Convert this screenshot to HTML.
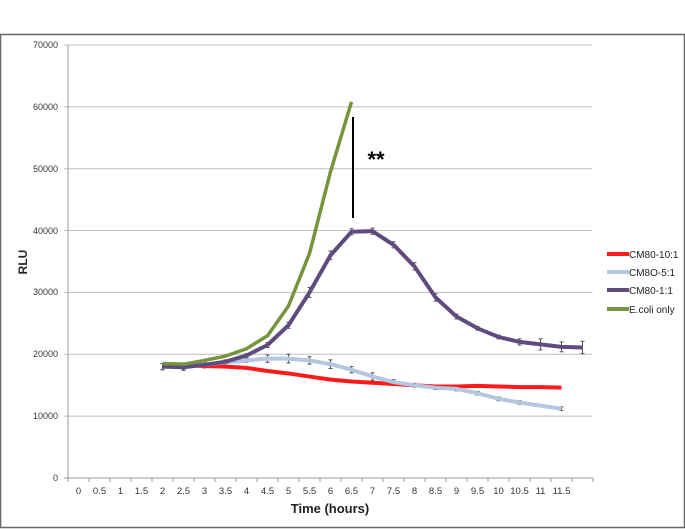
<!DOCTYPE html>
<html><head><meta charset="utf-8"><style>
html,body{margin:0;padding:0;background:#fff;}
svg{display:block;font-family:"Liberation Sans",sans-serif;}
</style></head><body>
<svg id="s" width="685" height="529" viewBox="0 0 685 529">
<rect x="0.5" y="34.5" width="684" height="493" fill="#fff" stroke="#666" stroke-width="1.5"/>
<g id="grid" stroke="#bfbfbf" stroke-width="1"></g>
<g font-size="9" fill="#333" text-anchor="end">
<text x="58" y="48">70000</text><text x="58" y="110">60000</text><text x="58" y="172">50000</text>
<text x="58" y="234">40000</text><text x="58" y="295">30000</text><text x="58" y="357">20000</text>
<text x="58" y="419">10000</text><text x="58" y="481">0</text>
</g>
<g font-size="9.5" fill="#333" text-anchor="middle">
<text x="78.5" y="494">0</text><text x="99.5" y="494">0.5</text><text x="120.5" y="494">1</text><text x="141.5" y="494">1.5</text>
<text x="162.5" y="494">2</text><text x="183.5" y="494">2.5</text><text x="204.5" y="494">3</text><text x="225.5" y="494">3.5</text>
<text x="246.5" y="494">4</text><text x="267.5" y="494">4.5</text><text x="288.5" y="494">5</text><text x="309.5" y="494">5.5</text>
<text x="330.5" y="494">6</text><text x="351.5" y="494">6.5</text><text x="372.5" y="494">7</text><text x="393.5" y="494">7.5</text>
<text x="414.5" y="494">8</text><text x="435.5" y="494">8.5</text><text x="456.5" y="494">9</text><text x="477.5" y="494">9.5</text>
<text x="498.5" y="494">10</text><text x="519.5" y="494">10.5</text><text x="540.5" y="494">11</text><text x="561.5" y="494">11.5</text>
</g>
<text x="330" y="513" font-size="13" font-weight="bold" text-anchor="middle" fill="#222">Time (hours)</text>
<text transform="translate(27,262) rotate(-90)" font-size="12" font-weight="bold" text-anchor="middle" fill="#222">RLU</text>
<g id="series"></g>
<line x1="353" y1="117" x2="353" y2="218" stroke="#000" stroke-width="2"/>
<text x="376" y="167" font-size="22" font-weight="bold" text-anchor="middle" fill="#000">**</text>
<g font-size="10" fill="#222">
<line x1="607" y1="254" x2="629" y2="254" stroke="#ff1a1a" stroke-width="4"/><text x="629" y="258">CM80-10:1</text>
<line x1="607" y1="272" x2="629" y2="272" stroke="#b4c6e0" stroke-width="4"/><text x="629" y="276">CM8O-5:1</text>
<line x1="607" y1="290" x2="629" y2="290" stroke="#5f4b80" stroke-width="4"/><text x="629" y="294">CM80-1:1</text>
<line x1="607" y1="309" x2="629" y2="309" stroke="#76943c" stroke-width="4"/><text x="629" y="313">E.coli only</text>
</g>
</svg>
<script>
var NS="http://www.w3.org/2000/svg";
function X(t){return 68+21*(2*t+0.5);}
function Y(v){return 478-v*0.006186;}
var g=document.getElementById("grid");
for(var k=1;k<=7;k++){var l=document.createElementNS(NS,"line");var y=Y(k*10000);l.setAttribute("x1",64);l.setAttribute("x2",592);l.setAttribute("y1",y);l.setAttribute("y2",y);g.appendChild(l);}
function ln(p,a,b,c,d){var l=document.createElementNS(NS,"line");l.setAttribute("x1",a);l.setAttribute("y1",b);l.setAttribute("x2",c);l.setAttribute("y2",d);p.appendChild(l);}
var ax=document.createElementNS(NS,"g");ax.setAttribute("stroke","#999");g.parentNode.insertBefore(ax,g.nextSibling);
ln(ax,68,45,68,478);ln(ax,64,478,593,478);
for(var i=0;i<=25;i++){ln(ax,68+21*i,478,68+21*i,482);}
var s=document.getElementById("series");
var red=[18300,18200,18100,18000,17800,17300,16900,16400,15900,15600,15400,15200,15000,14800,14800,14900,14800,14700,14700,14600];
var blue=[18000,18000,18300,18700,19000,19300,19300,19000,18400,17500,16400,15500,15000,14600,14400,13700,12800,12200,11700,11200];
var pur=[18000,17900,18300,18800,19800,21500,24700,30000,36000,39800,39900,37700,34200,29200,26100,24200,22800,22000,21600,21200,21100];
var grn=[18500,18400,19000,19700,20900,23000,27800,36300,49500,60800];
var perr=[500,500,500,300,300,400,500,800,700,500,500,500,600,600,400,300,300,500,900,800,1000];
var berr=[500,400,500,300,300,600,700,600,700,500,600,400,300,300,300,300,300,300,200,300];
function eb(arr,err,col){var e=document.createElementNS(NS,"g");e.setAttribute("stroke",col);e.setAttribute("stroke-width","1");
for(var i=0;i<arr.length;i++){var x=X(2+i/2),y1=Y(arr[i]-err[i]),y2=Y(arr[i]+err[i]);ln(e,x,y1,x,y2);ln(e,x-2,y1,x+2,y1);ln(e,x-2,y2,x+2,y2);}s.appendChild(e);}
function pl(arr,col,w){var p=document.createElementNS(NS,"polyline");var pts=[];for(var i=0;i<arr.length;i++)pts.push(X(2+i/2)+","+Y(arr[i]));
p.setAttribute("points",pts.join(" "));p.setAttribute("fill","none");p.setAttribute("stroke",col);p.setAttribute("stroke-width",w);p.setAttribute("stroke-linejoin","round");s.appendChild(p);}
eb(blue,berr,"#555");
eb(pur,perr,"#555");
pl(red,"#ff1a1a",4);
pl(blue,"#b4c6e0",4);
pl(pur,"#5f4b80",4);
pl(grn,"#76943c",3.5);
</script>
</body></html>
